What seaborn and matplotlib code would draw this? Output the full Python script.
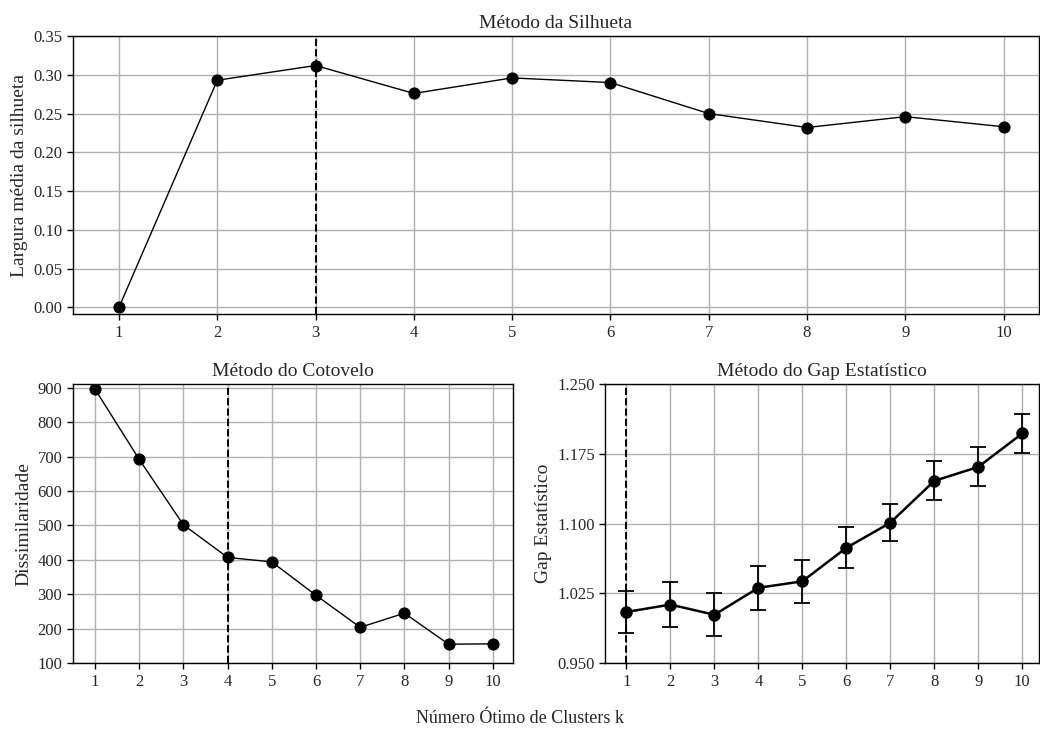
"""
Metodos para escolha do numero otimo de clusters
"""
import matplotlib
matplotlib.use("Agg")
import matplotlib.pyplot as plt
import seaborn as sns
import pandas as pd

# Dados
k_values = [1, 2, 3, 4, 5, 6, 7, 8, 9, 10]
silhueta = [0.0, 0.293, 0.312, 0.276, 0.296, 0.290, 0.250, 0.232, 0.246, 0.233]
cotovelo = [896, 692, 502, 407, 394, 297, 204, 245, 155, 156]
gap = [1.005, 1.013, 1.002, 1.031, 1.038, 1.074, 1.101, 1.146, 1.161, 1.197]
gap_err = [0.023, 0.024, 0.023, 0.024, 0.023, 0.022, 0.020, 0.021, 0.021, 0.021]
k_silhueta = 3
k_cotovelo = 4
k_gap = 1

sns.set_style("whitegrid", {
    "axes.edgecolor": "black",
    "grid.color": "#b0b0b0",
    "xtick.bottom": True,
    "ytick.left": True,
})
plt.rcParams['font.family'] = ['Liberation Serif', 'DejaVu Serif']
plt.rcParams['axes.linewidth'] = 1.0
plt.rcParams['xtick.labelsize'] = 12
plt.rcParams['ytick.labelsize'] = 12

df = pd.DataFrame({'k': k_values, 'silhueta': silhueta,
                   'cotovelo': cotovelo, 'gap': gap, 'err': gap_err})

fig = plt.figure(figsize=(10.4, 7.36), dpi=100)
ax1 = fig.add_axes([0.070, 0.573, 0.929, 0.378])
ax2 = fig.add_axes([0.070, 0.099, 0.423, 0.379])
ax3 = fig.add_axes([0.582, 0.099, 0.417, 0.379])

# Silhueta
sns.lineplot(data=df, x='k', y='silhueta', ax=ax1, color='black', lw=1,
             marker='o', markersize=8, markeredgecolor='black')
ax1.axvline(k_silhueta, color='black', ls='--', lw=1.4)
ax1.set_xlim(0.53, 10.36)
ax1.set_ylim(-0.009, 0.35)
ax1.set_xticks(k_values)
ax1.set_yticks([0, 0.05, 0.10, 0.15, 0.20, 0.25, 0.30, 0.35])
ax1.set_yticklabels([f"{v:.2f}" for v in ax1.get_yticks()])
ax1.set_title('Método da Silhueta', fontsize=14)
ax1.set_xlabel('')
ax1.set_ylabel('Largura média da silhueta', fontsize=14)

# Cotovelo
sns.lineplot(data=df, x='k', y='cotovelo', ax=ax2, color='black', lw=1,
             marker='o', markersize=8, markeredgecolor='black')
ax2.axvline(k_cotovelo, color='black', ls='--', lw=1.4)
ax2.set_xlim(0.5, 10.45)
ax2.set_ylim(100, 910)
ax2.set_xticks(k_values)
ax2.set_yticks(range(100, 1000, 100))
ax2.set_title('Método do Cotovelo', fontsize=14)
ax2.set_xlabel('')
ax2.set_ylabel('Dissimilaridade', fontsize=14)

# Gap estatistico
ax3.errorbar(df['k'], df['gap'], yerr=df['err'], color='black', lw=1.8,
             marker='o', markersize=8, capsize=6, elinewidth=1.3, capthick=1.3)
ax3.axvline(k_gap, color='black', ls='--', lw=1.4)
ax3.set_xlim(0.52, 10.38)
ax3.set_ylim(0.95, 1.25)
ax3.set_xticks(k_values)
ax3.set_yticks([0.950, 1.025, 1.100, 1.175, 1.250])
ax3.set_yticklabels([f"{v:.3f}" for v in ax3.get_yticks()])
ax3.set_title('Método do Gap Estatístico', fontsize=14)
ax3.set_ylabel('Gap Estatístico', fontsize=14)

for ax in (ax1, ax2, ax3):
    ax.grid(True, lw=1)
    ax.set_axisbelow(True)
    ax.tick_params(length=4, width=1, color='black')

fig.text(0.5, 0.017, 'Número Ótimo de Clusters k', ha='center', fontsize=13)

fig.savefig('out.png', dpi=100)
